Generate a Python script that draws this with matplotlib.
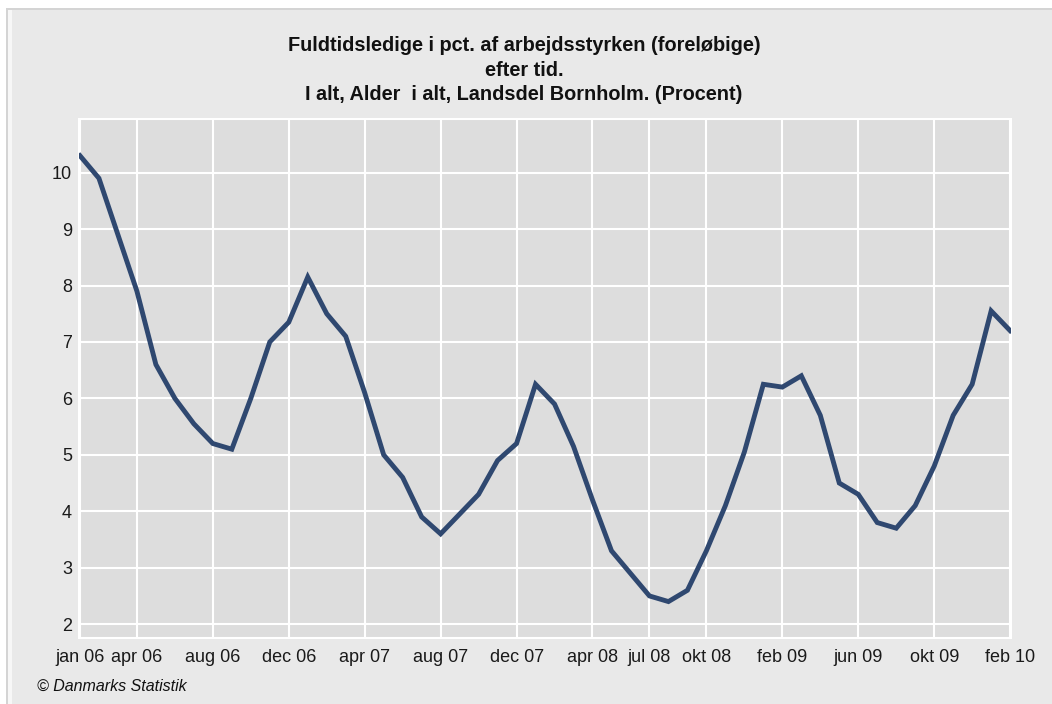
import matplotlib
matplotlib.use("Agg")
import matplotlib.pyplot as plt
from matplotlib.patches import Rectangle

# Fuldtidsledige, Bornholm, jan 06 - feb 10 (maanedlig)
months = list(range(50))
ledige = [10.3, 9.9, 8.9, 7.9, 6.6, 6.0, 5.55, 5.2, 5.1, 6.0,
          7.0, 7.35, 8.15, 7.5, 7.1, 6.1, 5.0, 4.6, 3.9, 3.6,
          3.95, 4.3, 4.9, 5.2, 6.25, 5.9, 5.15, 4.2, 3.3, 2.9,
          2.5, 2.4, 2.6, 3.3, 4.1, 5.05, 6.25, 6.2, 6.4, 5.7,
          4.5, 4.3, 3.8, 3.7, 4.1, 4.8, 5.7, 6.25, 7.55, 7.2]

tick_pos = [0, 3, 7, 11, 15, 19, 23, 27, 30, 33, 37, 41, 45, 49]
tick_labels = ['jan 06', 'apr 06', 'aug 06', 'dec 06', 'apr 07', 'aug 07', 'dec 07',
               'apr 08', 'jul 08', 'okt 08', 'feb 09', 'jun 09', 'okt 09', 'feb 10']
y_ticks = [2, 3, 4, 5, 6, 7, 8, 9, 10]

titel = ('Fuldtidsledige i pct. af arbejdsstyrken (foreløbige)\n'
         'efter tid.\n'
         'I alt, Alder  i alt, Landsdel Bornholm. (Procent)')

plt.rcParams['font.family'] = ['Liberation Sans', 'DejaVu Sans']

W, H = 1052, 704
fig = plt.figure(figsize=(W / 100, H / 100), dpi=100, facecolor='white')

def px(x, y, w, h, color):
    # rektangel i pixel-koordinater (y fra toppen)
    fig.add_artist(Rectangle((x / W, 1 - (y + h) / H), w / W, h / H,
                             transform=fig.transFigure, facecolor=color,
                             edgecolor='none', zorder=-10))

# ramme og baggrund
px(8, 10, W - 8, H - 10, '#e9e9e9')
px(6, 8, W - 6, 2, '#d4d4d4')
px(6, 8, 2, H - 8, '#d4d4d4')
px(8, 10, 4, H - 10, '#f7f7f7')

ax = fig.add_axes([79 / W, 1 - 637.7 / H, 931.7 / W, 518.7 / H])
ax.set_facecolor('#dddddd')
ax.plot(months, ledige, color='#2f4870', linewidth=3.5, solid_joinstyle='miter', zorder=3)

ax.set_xlim(-0.05, 49.03)
ax.set_ylim(1.76, 10.95)
ax.set_xticks(tick_pos)
ax.set_xticklabels(tick_labels)
ax.set_yticks(y_ticks)
ax.tick_params(axis='both', length=0, labelsize=13, colors='#1a1a1a')
ax.tick_params(axis='x', pad=8)
ax.tick_params(axis='y', pad=5)
ax.grid(True, color='white', linewidth=1.5)
ax.set_axisbelow(True)
for s in ax.spines.values():
    s.set_color('white')
    s.set_linewidth(1.5)

fig.text(524 / W, 1 - 70 / H, titel, ha='center', va='center', fontsize=14.3,
         fontweight='bold', linespacing=1.38, color='#111111')
fig.text(37 / W, 1 - 686 / H, '© Danmarks Statistik', ha='left', va='center',
         fontsize=11.5, style='italic', color='#111111')

fig.savefig('out.png', dpi=100, facecolor=fig.get_facecolor())
